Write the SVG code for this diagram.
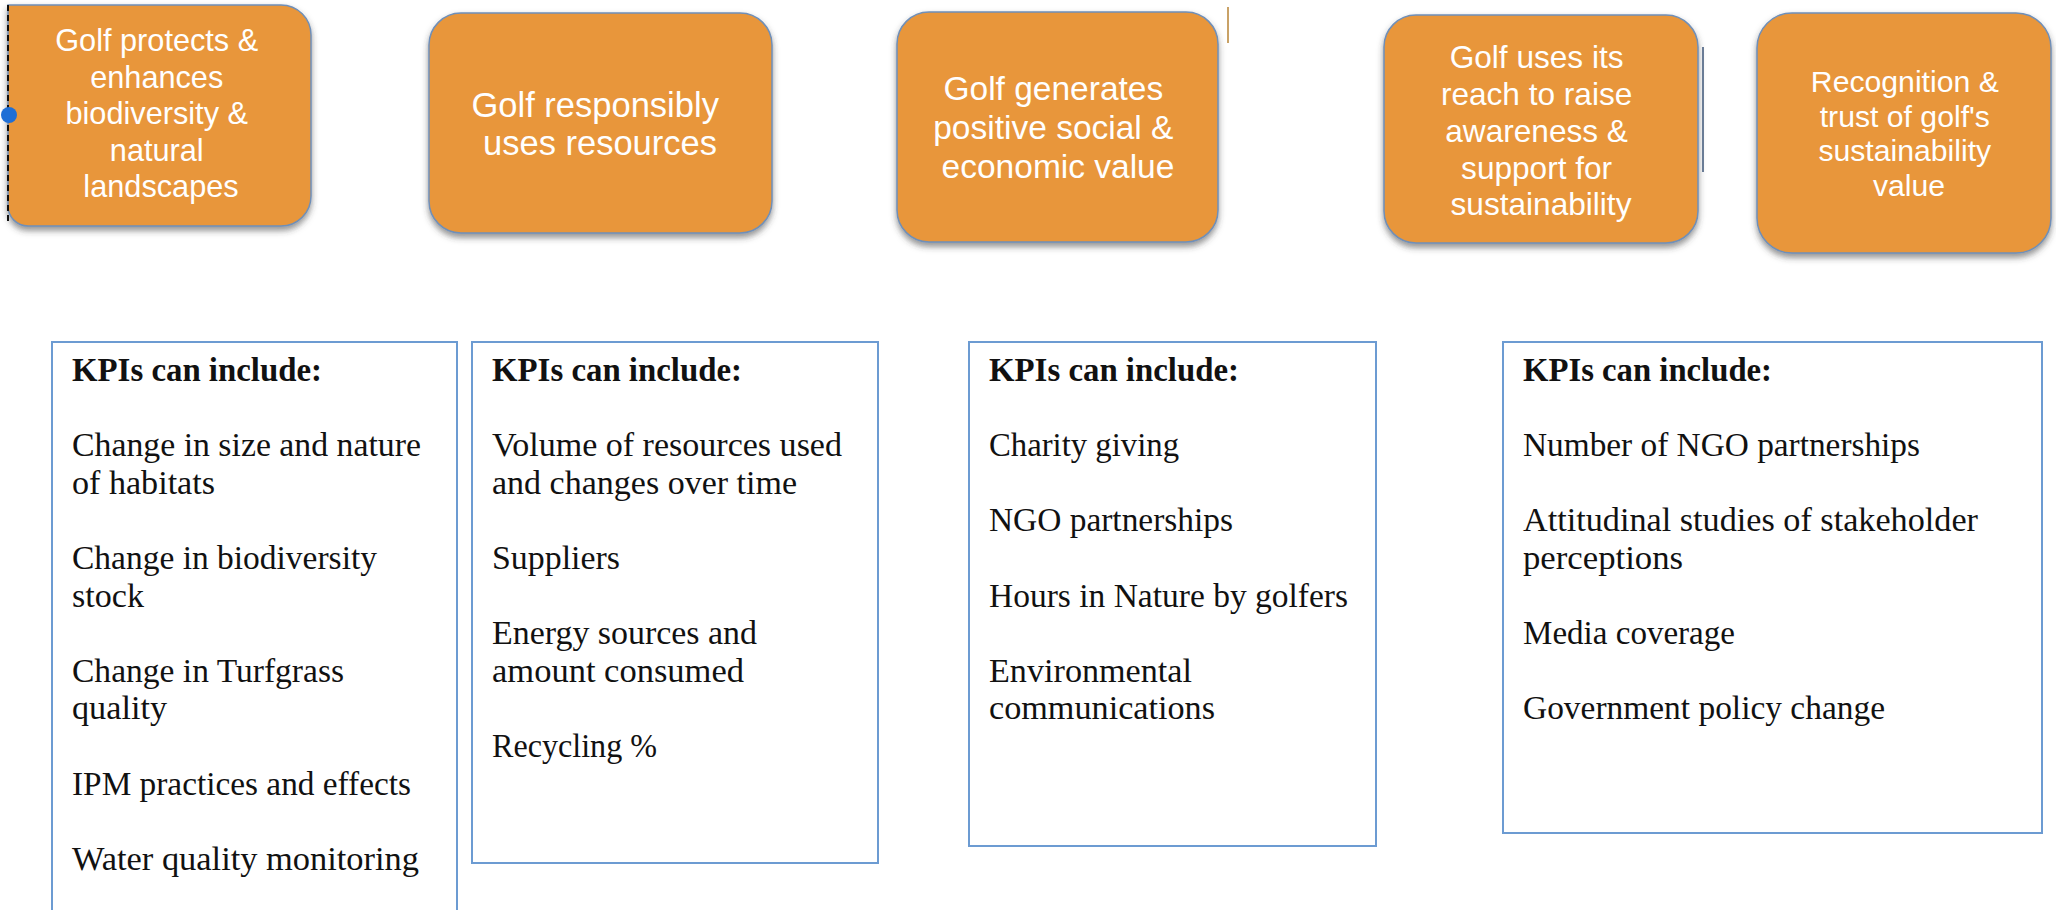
<svg xmlns="http://www.w3.org/2000/svg" width="2056" height="910" viewBox="0 0 2056 910">
  <defs>
    <filter id="shadow" x="-10%" y="-10%" width="120%" height="130%">
      <feDropShadow dx="0" dy="4" stdDeviation="3" flood-color="#3a3a3a" flood-opacity="0.55"/>
    </filter>
    <style>
      .pill { fill: #E8963B; stroke: #6F8FB8; stroke-width: 1.5; filter: url(#shadow); }
      .pt { font-family: "Liberation Sans", Arial, sans-serif; fill: #ffffff; text-anchor: middle; }
      .kbox { fill: #ffffff; stroke: #6C9BD2; stroke-width: 2; }
      .kt { font-family: "Liberation Serif", "Times New Roman", serif; font-size: 33px; fill: #111111; }
      .kh { font-weight: bold; }
    </style>
  </defs>
  <rect x="0" y="0" width="2056" height="910" fill="#ffffff"/>

  <!-- Top outcome boxes -->
  <g id="node-biodiversity">
    <path class="pill" d="M 8 5 H 281 A 30 30 0 0 1 311 35 V 196 A 30 30 0 0 1 281 226 H 28 A 20 20 0 0 1 8 206 Z"/>
    <line x1="8" y1="5" x2="8" y2="223" stroke="#111111" stroke-width="2" stroke-dasharray="6,4"/>
    <circle cx="9" cy="115" r="8" fill="#1F6FD6"/>
    <text class="pt" font-size="30.7">
      <tspan x="161" y="51">Golf protects &amp;</tspan>
      <tspan x="161" y="87.5">enhances</tspan>
      <tspan x="161" y="124">biodiversity &amp;</tspan>
      <tspan x="161" y="160.5">natural</tspan>
      <tspan x="161" y="197">landscapes</tspan>
    </text>
  </g>

  <g id="node-resources">
    <rect class="pill" x="429" y="13" width="343" height="220" rx="32" ry="32"/>
    <text class="pt" font-size="34.5">
      <tspan x="600" y="117">Golf responsibly</tspan>
      <tspan x="600" y="155">uses resources</tspan>
    </text>
  </g>

  <g id="node-social">
    <rect class="pill" x="897" y="12" width="321" height="230" rx="32" ry="32"/>
    <text class="pt" font-size="33.5">
      <tspan x="1058" y="100">Golf generates</tspan>
      <tspan x="1058" y="139">positive social &amp;</tspan>
      <tspan x="1058" y="178">economic value</tspan>
    </text>
    <line x1="1228" y1="7" x2="1228" y2="43" stroke="#C9A267" stroke-width="2"/>
  </g>

  <g id="node-awareness">
    <rect class="pill" x="1384" y="15" width="314" height="228" rx="32" ry="32"/>
    <text class="pt" font-size="31.6">
      <tspan x="1541" y="68">Golf uses its</tspan>
      <tspan x="1541" y="105">reach to raise</tspan>
      <tspan x="1541" y="142">awareness &amp;</tspan>
      <tspan x="1541" y="178.5">support for</tspan>
      <tspan x="1541" y="215">sustainability</tspan>
    </text>
    <line x1="1703" y1="47" x2="1703" y2="172" stroke="#6A7C96" stroke-width="2"/>
  </g>

  <g id="node-recognition">
    <rect class="pill" x="1757" y="13" width="294" height="240" rx="35" ry="35"/>
    <text class="pt" font-size="30.2">
      <tspan x="1909" y="92">Recognition &amp;</tspan>
      <tspan x="1909" y="126.5">trust of golf's</tspan>
      <tspan x="1909" y="161">sustainability</tspan>
      <tspan x="1909" y="196">value</tspan>
    </text>
  </g>

  <!-- KPI boxes -->
  <g id="kpi-biodiversity">
    <path class="kbox" d="M 52 915 V 342 H 457 V 915"/>
    <text class="kt" x="72" y="381" font-weight="bold" textLength="250" lengthAdjust="spacingAndGlyphs">KPIs can include:</text>
    <text class="kt" x="72" y="456.2" textLength="349" lengthAdjust="spacingAndGlyphs">Change in size and nature</text>
    <text class="kt" x="72" y="493.8" textLength="143" lengthAdjust="spacingAndGlyphs">of habitats</text>
    <text class="kt" x="72" y="569" textLength="305" lengthAdjust="spacingAndGlyphs">Change in biodiversity</text>
    <text class="kt" x="72" y="606.6" textLength="72" lengthAdjust="spacingAndGlyphs">stock</text>
    <text class="kt" x="72" y="681.8" textLength="272" lengthAdjust="spacingAndGlyphs">Change in Turfgrass</text>
    <text class="kt" x="72" y="719.4" textLength="95" lengthAdjust="spacingAndGlyphs">quality</text>
    <text class="kt" x="72" y="794.6" textLength="339" lengthAdjust="spacingAndGlyphs">IPM practices and effects</text>
    <text class="kt" x="72" y="869.8" textLength="347" lengthAdjust="spacingAndGlyphs">Water quality monitoring</text>
  </g>

  <g id="kpi-resources">
    <rect class="kbox" x="472" y="342" width="406" height="521"/>
    <text class="kt" x="492" y="381" font-weight="bold" textLength="250" lengthAdjust="spacingAndGlyphs">KPIs can include:</text>
    <text class="kt" x="492" y="456.2" textLength="350" lengthAdjust="spacingAndGlyphs">Volume of resources used</text>
    <text class="kt" x="492" y="493.8" textLength="305" lengthAdjust="spacingAndGlyphs">and changes over time</text>
    <text class="kt" x="492" y="569" textLength="128" lengthAdjust="spacingAndGlyphs">Suppliers</text>
    <text class="kt" x="492" y="644.2" textLength="265" lengthAdjust="spacingAndGlyphs">Energy sources and</text>
    <text class="kt" x="492" y="681.8" textLength="252" lengthAdjust="spacingAndGlyphs">amount consumed</text>
    <text class="kt" x="492" y="757" textLength="165" lengthAdjust="spacingAndGlyphs">Recycling %</text>
  </g>

  <g id="kpi-social">
    <rect class="kbox" x="969" y="342" width="407" height="504"/>
    <text class="kt" x="989" y="381" font-weight="bold" textLength="250" lengthAdjust="spacingAndGlyphs">KPIs can include:</text>
    <text class="kt" x="989" y="456.2" textLength="190" lengthAdjust="spacingAndGlyphs">Charity giving</text>
    <text class="kt" x="989" y="531.4" textLength="244" lengthAdjust="spacingAndGlyphs">NGO partnerships</text>
    <text class="kt" x="989" y="606.6" textLength="359" lengthAdjust="spacingAndGlyphs">Hours in Nature by golfers</text>
    <text class="kt" x="989" y="681.8" textLength="203" lengthAdjust="spacingAndGlyphs">Environmental</text>
    <text class="kt" x="989" y="719.4" textLength="226" lengthAdjust="spacingAndGlyphs">communications</text>
  </g>

  <g id="kpi-recognition">
    <rect class="kbox" x="1503" y="342" width="539" height="491"/>
    <text class="kt" x="1523" y="381" font-weight="bold" textLength="249" lengthAdjust="spacingAndGlyphs">KPIs can include:</text>
    <text class="kt" x="1523" y="456.2" textLength="397" lengthAdjust="spacingAndGlyphs">Number of NGO partnerships</text>
    <text class="kt" x="1523" y="531.4" textLength="455" lengthAdjust="spacingAndGlyphs">Attitudinal studies of stakeholder</text>
    <text class="kt" x="1523" y="569" textLength="160" lengthAdjust="spacingAndGlyphs">perceptions</text>
    <text class="kt" x="1523" y="644.2" textLength="212" lengthAdjust="spacingAndGlyphs">Media coverage</text>
    <text class="kt" x="1523" y="719.4" textLength="362" lengthAdjust="spacingAndGlyphs">Government policy change</text>
  </g>

  <g id="connectors"/>
</svg>
